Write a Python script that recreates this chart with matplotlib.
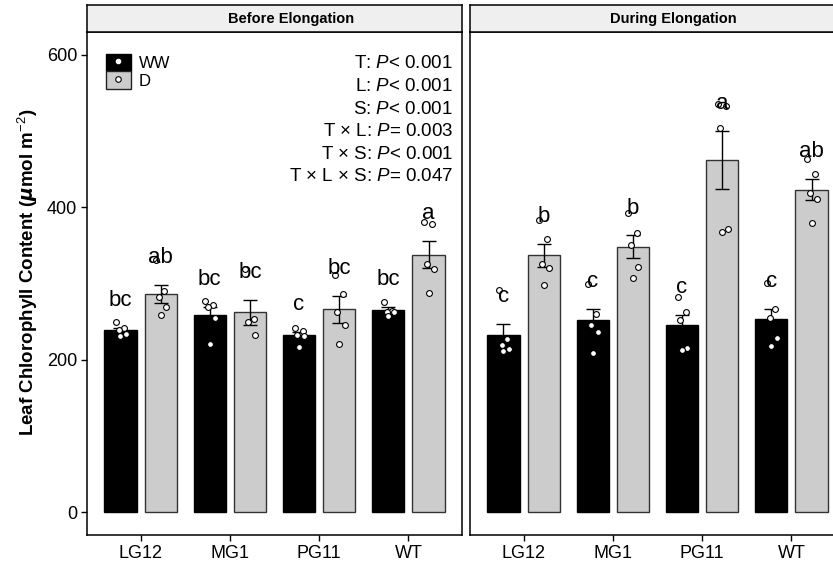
import numpy as np
import matplotlib
matplotlib.use("Agg")
import matplotlib.pyplot as plt
from matplotlib.patches import Patch, Rectangle
from matplotlib.lines import Line2D

plt.rcParams['font.family'] = ['Liberation Sans', 'DejaVu Sans']
plt.rcParams['mathtext.fontset'] = 'custom'
plt.rcParams['mathtext.rm'] = 'Liberation Sans'
plt.rcParams['mathtext.it'] = 'Liberation Sans:italic'
plt.rcParams['mathtext.bf'] = 'Liberation Sans:bold'

# ---------------- data ----------------
genotypes = ["LG12", "MG1", "PG11", "WT"]
panels = ["Before Elongation", "During Elongation"]
treatments = ["WW", "D"]

before_ww_mean = [239, 259, 232, 265]
before_ww_se = [3, 10, 4, 4]
before_d_mean = [286, 262, 266, 338]
before_d_se = [12, 16, 18, 18]

during_ww_mean = [233, 252, 245, 253]
during_ww_se = [14, 14, 13.5, 14]
during_d_mean = [337, 348, 462, 423]
during_d_se = [15, 15, 38, 14]

before_ww_pts = [[250, 242, 239, 234, 231], [277, 272, 269, 255, 221],
                 [241, 238, 232, 231, 217], [276, 264, 263, 262, 258]]
before_d_pts = [[331, 290, 282, 269, 259], [319, 254, 249, 232],
                [311, 286, 262, 246, 221], [381, 378, 325, 319, 288]]
during_ww_pts = [[292, 227, 219, 214, 211], [300, 260, 246, 236, 209],
                 [282, 262, 252, 215, 213], [301, 266, 255, 228, 218]]
during_d_pts = [[383, 359, 326, 320, 298], [393, 366, 351, 322, 307],
                [535, 533, 504, 371, 368], [464, 444, 419, 411, 379]]

before_ww_letters = ["bc", "bc", "c", "bc"]
before_d_letters = ["ab", "bc", "bc", "a"]
during_ww_letters = ["c", "c", "c", "c"]
during_d_letters = ["b", "b", "a", "ab"]

stats_lines = ["T: $\\mathit{P}$< 0.001", "L: $\\mathit{P}$< 0.001", "S: $\\mathit{P}$< 0.001",
               "T × L: $\\mathit{P}$= 0.003", "T × S: $\\mathit{P}$< 0.001",
               "T × L × S: $\\mathit{P}$= 0.047"]

ylabel = "Leaf Chlorophyll Content ($\\boldsymbol{\\mu}$mol m$^{-2}$)"

# ---------------- styling ----------------
W, H = 833, 566
fig = plt.figure(figsize=(W / 100, H / 100), dpi=100)

def px_axes(x0, x1, ytop, ybot):
    return fig.add_axes([x0 / W, (H - ybot) / H, (x1 - x0) / W, (ybot - ytop) / H])

colors = {"WW": "black", "D": "#CCCCCC"}
edges = {"WW": "black", "D": "#333333"}
bar_w = 0.36
off = 0.225
jit = [-0.05, 0.04, -0.02, 0.06, 0.0]
letter_off = 36

panel_data = [
    (before_ww_mean, before_ww_se, before_ww_pts, before_ww_letters,
     before_d_mean, before_d_se, before_d_pts, before_d_letters),
    (during_ww_mean, during_ww_se, during_ww_pts, during_ww_letters,
     during_d_mean, during_d_se, during_d_pts, during_d_letters),
]

x_ranges = [(87, 462), (470, 845)]
x = np.arange(1, len(genotypes) + 1)

for pi, (title, (x0, x1)) in enumerate(zip(panels, x_ranges)):
    ax = px_axes(x0, x1, 32, 535)
    wm, ws, wp, wl, dm, ds, dp, dl = panel_data[pi]
    for tr, means, ses, pts, letters, sgn in [("WW", wm, ws, wp, wl, -1), ("D", dm, ds, dp, dl, 1)]:
        xp = x + sgn * off
        ax.bar(xp, means, width=bar_w, color=colors[tr], edgecolor=edges[tr],
               linewidth=1.0, zorder=2)
        ax.errorbar(xp, means, yerr=ses, fmt='none', ecolor='black', elinewidth=1.0,
                    capsize=5, capthick=1.0, zorder=3)
        for i in range(len(genotypes)):
            vals = pts[i]
            ax.plot(xp[i] + np.array(jit[:len(vals)]), vals, ls='none', marker='o',
                    ms=4.2, mfc='white', mec='black', mew=0.8, zorder=4)
            ax.text(xp[i], means[i] + ses[i] + letter_off, letters[i], ha='center',
                    va='center', fontsize=16, zorder=5)
    ax.set_xlim(0.4, 4.6)
    ax.set_ylim(-30, 630)
    ax.set_xticks(x)
    ax.set_xticklabels(genotypes, fontsize=13)
    ax.set_yticks([0, 200, 400, 600])
    for s in ax.spines.values():
        s.set_linewidth(1.1)
        s.set_color('black')
    ax.tick_params(axis='x', length=4, width=1.0, pad=3, colors='black')
    if pi == 0:
        ax.tick_params(axis='y', length=4, width=1.0, pad=3, labelsize=13)
    else:
        ax.tick_params(axis='y', left=False, labelleft=False)

    # strip
    sax = px_axes(x0, x1, 5, 32)
    sax.set_facecolor('#EFEFEF')
    sax.set_xticks([])
    sax.set_yticks([])
    for s in sax.spines.values():
        s.set_linewidth(1.1)
    sax.text(0.543, 0.5, title, ha='center', va='center', fontsize=10.5,
             fontweight='bold', transform=sax.transAxes)

    if pi == 0:
        handles = [
            (Patch(facecolor='black', edgecolor='black'),
             Line2D([], [], ls='none', marker='o', ms=3, mfc='white', mec='white')),
            (Patch(facecolor='#CCCCCC', edgecolor='#222222'),
             Line2D([], [], ls='none', marker='o', ms=4, mfc='white', mec='black', mew=0.8)),
        ]
        ax.legend(handles, treatments, loc='upper left', bbox_to_anchor=(0.05, 0.957),
                  frameon=False, fontsize=12, handlelength=1.5, handleheight=1.26,
                  handletextpad=0.5, labelspacing=0.0, borderpad=0, borderaxespad=0)
        for k, line in enumerate(stats_lines):
            ax.text(0.976, 0.9364 - k * 0.0449, line, ha='right', va='center',
                    fontsize=13.5, transform=ax.transAxes)

fig.text(28 / W, 1 - 272 / H, ylabel, rotation=90, ha='center', va='center',
         fontsize=13.5, fontweight='bold')

fig.savefig("out.png", dpi=100)
